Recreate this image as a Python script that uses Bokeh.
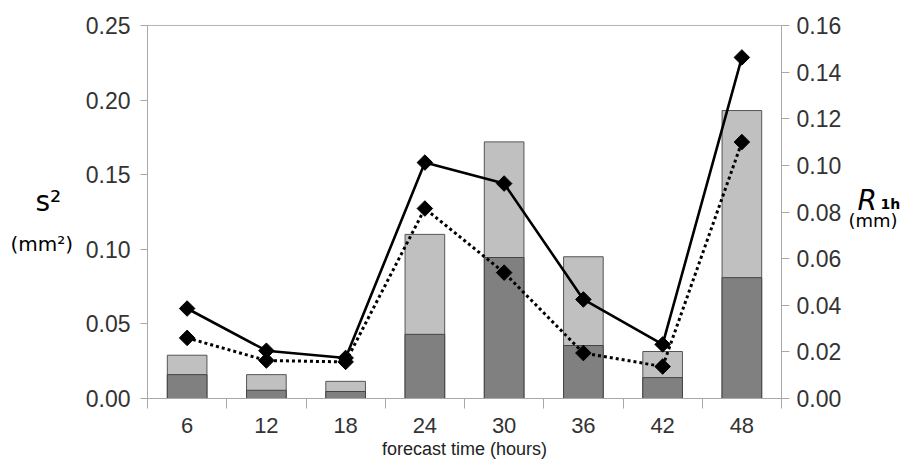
import math
from bokeh.plotting import figure
from bokeh.layouts import row
from bokeh.models import (Range1d, LinearAxis, FixedTicker, NumeralTickFormatter,
                          Label, ColumnDataSource)
from bokeh.embed import file_html
from bokeh.resources import INLINE

# ---- data ----
hours = [6, 12, 18, 24, 30, 36, 42, 48]
s2_total = [0.029, 0.016, 0.0115, 0.110, 0.172, 0.095, 0.0315, 0.193]
s2_part = [0.016, 0.0055, 0.0047, 0.043, 0.0945, 0.0355, 0.014, 0.081]
r1h_solid = [0.0386, 0.0205, 0.0174, 0.1012, 0.0922, 0.0425, 0.0232, 0.1463]
r1h_dotted = [0.0260, 0.0163, 0.0157, 0.0815, 0.0540, 0.0195, 0.0137, 0.1100]
left_ticks = [0.0, 0.05, 0.10, 0.15, 0.20, 0.25]
right_ticks = [0.0, 0.02, 0.04, 0.06, 0.08, 0.10, 0.12, 0.14, 0.16]

step = hours[1] - hours[0]
boundaries = [h - step / 2 for h in hours] + [hours[-1] + step / 2]

src = ColumnDataSource(dict(h=hours, tot=s2_total, part=s2_part,
                            rs=r1h_solid, rd=r1h_dotted))

FH = 373
TOP = 25
BOTTOM = 57

p = figure(frame_width=634, frame_height=FH,
           min_border_left=69, min_border_right=63,
           min_border_top=TOP, min_border_bottom=BOTTOM,
           x_range=Range1d(boundaries[0], boundaries[-1]),
           y_range=Range1d(left_ticks[0], left_ticks[-1]),
           output_backend="svg", toolbar_location=None,
           background_fill_color="white", border_fill_color="white")
p.extra_y_ranges = {"r": Range1d(right_ticks[0], right_ticks[-1])}
p.xgrid.visible = False
p.ygrid.visible = False
p.outline_line_color = "#b4b4b4"
p.outline_line_width = 1

axis_col = "#a8a8a8"
lab_col = "#333333"
FONT = "Liberation Sans"

# bars
p.vbar(x="h", top="tot", bottom=0, width=step * 0.5, source=src,
       fill_color="#c0c0c0", line_color="#555555", line_width=1)
p.vbar(x="h", top="part", bottom=0, width=step * 0.5, source=src,
       fill_color="#808080", line_color="#444444", line_width=1)

# lines
p.line(x="h", y="rs", source=src, y_range_name="r", line_color="black",
       line_width=2.6)
p.line(x="h", y="rd", source=src, y_range_name="r", line_color="black",
       line_width=3, line_dash="3 3")
p.scatter(x="h", y="rs", source=src, y_range_name="r", marker="square",
          size=11, angle=math.pi / 4, fill_color="black", line_color="black")
p.scatter(x="h", y="rd", source=src, y_range_name="r", marker="square",
          size=11, angle=math.pi / 4, fill_color="black", line_color="black")

# x axis
xa = p.xaxis[0]
xa.ticker = FixedTicker(ticks=hours, minor_ticks=boundaries)
xa.major_tick_out = 0
xa.major_tick_in = 0
xa.minor_tick_out = 10
xa.minor_tick_in = 0
xa.minor_tick_line_color = axis_col
xa.axis_line_color = axis_col
xa.major_label_text_font = FONT
xa.major_label_text_font_size = "22px"
xa.major_label_text_color = lab_col
xa.major_label_standoff = 9
xa.axis_label = "forecast time (hours)"
xa.axis_label_text_font = FONT
xa.axis_label_text_font_size = "18px"
xa.axis_label_text_font_style = "normal"
xa.axis_label_text_color = "#222222"
xa.axis_label_standoff = 3

# left axis
ya = p.yaxis[0]
ya.ticker = FixedTicker(ticks=left_ticks)
ya.formatter = NumeralTickFormatter(format="0.00")
ya.major_tick_out = 7
ya.major_tick_in = 0
ya.minor_tick_out = 0
ya.minor_tick_in = 0
ya.major_tick_line_color = axis_col
ya.axis_line_color = axis_col
ya.major_label_text_font = FONT
ya.major_label_text_font_size = "23px"
ya.major_label_text_color = lab_col
ya.major_label_standoff = 10

# right axis
ra = LinearAxis(y_range_name="r", ticker=FixedTicker(ticks=right_ticks),
                formatter=NumeralTickFormatter(format="0.00"))
ra.major_tick_out = 8
ra.major_tick_in = 0
ra.minor_tick_out = 0
ra.minor_tick_in = 0
ra.major_tick_line_color = axis_col
ra.axis_line_color = axis_col
ra.major_label_text_font = FONT
ra.major_label_text_font_size = "23px"
ra.major_label_text_color = lab_col
ra.major_label_standoff = 7
p.add_layout(ra, "right")


# side panels holding the axis titles
def side_panel(width):
    f = figure(frame_width=width, frame_height=FH,
               min_border_left=0, min_border_right=0,
               min_border_top=TOP, min_border_bottom=BOTTOM,
               toolbar_location=None, output_backend="svg",
               x_axis_location=None, y_axis_location=None,
               x_range=Range1d(0, 1), y_range=Range1d(0, 1),
               background_fill_color="white", border_fill_color="white")
    f.grid.visible = False
    f.outline_line_color = None
    return f


def lab(f, x, y, text, size, style="normal", font="DejaVu Sans"):
    f.add_layout(Label(x=x, y=y, x_units="screen", y_units="screen", text=text,
                       text_font=font, text_font_size=size,
                       text_font_style=style, text_color="black",
                       text_baseline="alphabetic", text_align="left"))


left = side_panel(78)
lab(left, 35, 197, "s²", "28px")
lab(left, 10, 155, "(mm²)", "20px")

right = side_panel(57)
lab(right, 13, 198, "R", "28px", style="italic")
lab(right, 36, 195, "1h", "14px", style="bold")
lab(right, 4, 178, "(mm)", "18px")

layout = row(left, p, right, spacing=0)
open("out.html", "w").write(file_html(layout, INLINE))
